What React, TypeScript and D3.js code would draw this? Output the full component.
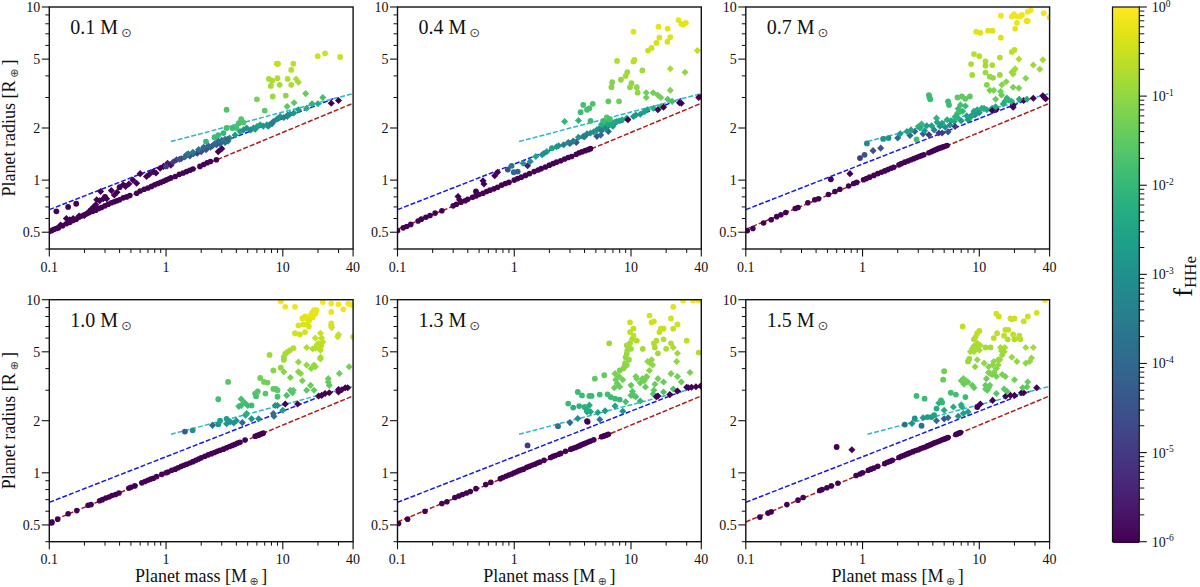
import React from "react";
import * as d3 from "d3";

type P2 = [number, number];
type P3 = [number, number, number];

// dashed reference curves [mass, radius]
const redCurve: P2[] = [[0.1, 0.52], [40, 2.78]];
const blueCurve: P2[] = [[0.1, 0.675], [27, 2.95]];
const cyanCurve: P2[] = [[1.1, 1.67], [40, 3.16]];

const xTicks = [0.1, 1, 10, 40];
const yTicks = [0.5, 1, 2, 5, 10];
const xMinor = [0.2, 0.3, 0.4, 0.5, 0.6, 0.7, 0.8, 0.9, 2, 3, 4, 5, 6, 7, 8, 9, 20, 30];
const yMinor = [0.4, 0.6, 0.7, 0.8, 0.9, 3, 4, 6, 7, 8, 9];
const cbDecades = [0, -1, -2, -3, -4, -5, -6];
const cbMinorFactors = [2, 3, 4, 5, 6, 7, 8, 9];
const panelNames = ["0.1", "0.4", "0.7", "1.0", "1.3", "1.5"];

// Points: rocky [m, r]; others [m, r, log10 fHHe]
const rock1: P2[] = [[.1,.505],[.105,.51],[.11,.52],[.115,.525],[.12,.53],[.13,.545],[.14,.56],[.15,.57],[.16,.585],[.17,.595],[.18,.61],[.19,.62],[.2,.63],[.21,.64],[.22,.65],[.235,.66],[.25,.67],[.265,.685],[.28,.695],[.3,.71],[.32,.725],[.34,.74],[.36,.75],[.38,.76],[.4,.77],[.43,.79],[.46,.80],[.49,.815],[.56,.84],[.6,.865],[.65,.885],[.7,.9],[.75,.92],[.8,.94],[.85,.955],[.9,.97],[.95,.985],[1,1],[1.05,1.015],[1.1,1.03],[1.2,1.05],[1.3,1.08],[1.4,1.1],[1.5,1.12],[1.6,1.14],[1.7,1.16],[1.95,1.2],[2.1,1.23],[2.25,1.26],[2.4,1.28],[2.7,1.31]];
const diam1: P3[] = [[.125,.55,-6],[.14,.6,-6],[.15,.59,-6],[.16,.6,-6],[.18,.62,-6],[.2,.625,-6],[.22,.66,-6],[.23,.68,-6],[.24,.7,-6],[.25,.72,-6],[.255,.77,-6],[.27,.76,-6],[.275,.86,-6],[.29,.78,-6],[.31,.78,-6],[.34,.87,-6],[.36,.82,-6],[.38,.85,-6],[.43,.94,-6],[.45,.92,-6],[.48,.95,-6],[.52,1,-6],[.56,.96,-6],[.6,1.09,-6],[.68,1.05,-6],[.72,1.08,-6],[.78,1.12,-6],[.82,1.1,-6],[.89,1.17,-6],[.95,1.2,-6],[1.03,1.25,-5.6],[1.1,1.22,-5.8],[1.23,1.31,-5],[1.35,1.33,-4.8],[1.5,1.4,-4.7],[1.6,1.38,-4.5],[1.72,1.42,-4.5],[1.85,1.43,-5],[2,1.46,-4.6],[2.2,1.5,-4.5],[2.4,1.55,-4.5],[2.5,1.58,-4.2],[2.7,1.6,-4.3],[2.8,1.46,-6],[3,1.52,-6],[2.9,1.62,-4.2],[3.2,1.65,-4],[3.4,1.68,-3.5],[3.5,1.75,-3],[3.9,1.82,-2.8],[4.3,1.91,-2.6],[4.9,2,-2.8],[5.3,1.95,-3.2],[5.6,2,-2.7],[6,2.04,-2.6],[6.4,2.09,-2.5],[7.3,2.09,-2.7],[7.8,2.1,-3],[8.3,2.18,-3.4],[8.9,2.25,-3.2],[9.5,2.33,-2.8],[10.9,2.33,-3],[11.5,2.4,-3],[12.4,2.44,-3],[13.6,2.55,-2.6],[16,2.6,-2.2],[17.8,2.76,-2.1],[20,2.76,-2.3],[22,3,-1.8],[26,2.78,-6],[30,2.88,-6]];
const band1: P3[] = [[1.15,1.27,-5],[1.3,1.32,-4.5],[1.45,1.36,-4],[1.55,1.42,-3.6],[1.7,1.45,-3.5],[1.9,1.5,-3.8],[2.1,1.55,-4],[2.3,1.58,-4],[2.6,1.62,-4],[2.8,1.68,-4],[3,1.7,-3.8],[3.2,1.72,-3.5],[3.35,1.72,-4],[4.6,1.95,-3],[5.8,1.97,-2.7],[6.8,2.05,-2.8],[7.5,2.05,-3],[8.1,2.12,-3.5],[9.2,2.28,-3],[10.2,2.3,-3.4],[11,2.38,-3.2]];
const circ1: P3[] = [[.115,.66,-6],[.145,.7,-6],[.17,.73,-6],[.3,.8,-6],[.4,.91,-6],[1,1.2,-5],[2.2,1.67,-2],[2.6,1.77,-1.9],[2.8,1.82,-1.9],[3.1,1.87,-2],[3.3,2,-1.8],[3.3,2.55,-1.6],[3.7,2,-1.9],[4,2,-1.8],[4.2,2.13,-1.7],[4.4,2.25,-1.6],[4.6,2.15,-1.7],[6,2.93,-1.2],[7,2.52,-1.5],[7.6,3.84,-.75],[8.1,3.75,-.75],[7.9,3.5,-.8],[8.2,3.04,-.9],[8.9,4.7,-.6],[9.1,4.7,-.6],[9,3.88,-.7],[9.4,3.55,-.8],[10.6,3.08,-1],[11,3.84,-.7],[11.8,4.33,-.65],[11.8,3.55,-.75],[12.3,4.7,-.6],[19.9,5.2,-.45],[23,5.4,-.45],[31,5.15,-.5]];
const diam1b: P3[] = [[13,3.84,-.75],[13.6,3.68,-.8],[10.9,2.66,-1.5],[12.5,2.8,-1.5],[15.7,3.16,-1.4]];

const rock2: P2[] = [[.1,.51],[.112,.53],[.12,.54],[.13,.555],[.15,.58],[.16,.595],[.175,.61],[.19,.625],[.21,.645],[.24,.665],[.3,.71],[.32,.725],[.35,.745],[.38,.76],[.4,.775],[.44,.795],[.47,.81],[.5,.825],[.54,.84],[.58,.86],[.62,.875],[.67,.89],[.72,.91],[.78,.935],[.84,.955],[.9,.97],[1,1],[1.07,1.02],[1.15,1.04],[1.25,1.065],[1.35,1.09],[1.48,1.12],[1.6,1.145],[1.7,1.165],[1.85,1.19],[2,1.22],[2.15,1.245],[2.3,1.27],[2.5,1.295],[2.7,1.325],[2.9,1.35],[3.1,1.37],[3.4,1.41],[3.6,1.44],[3.8,1.455],[4.05,1.48],[4.3,1.5],[4.5,1.52]];
const diam2: P3[] = [[.33,.805,-6],[.34,.77,-6],[.54,.99,-6],[.55,.95,-6],[.68,1.06,-6],[.72,1.11,-6],[1.19,1.25,-3],[1.3,1.21,-5.5],[1.37,1.28,-3],[1.53,1.37,-2.5],[1.73,1.4,-2.8],[1.9,1.46,-2.7],[2.3,1.56,-2.7],[2.65,1.6,-3.5],[3,1.63,-4],[3.4,1.65,-4.5],[3.55,1.77,-3],[3.9,1.79,-3],[4.5,1.87,-3],[5.1,1.95,-2.8],[5.5,2,-2.5],[5.8,2.04,-2.4],[6,2.15,-2.2],[6.4,2.2,-2],[6.5,2.08,-2.6],[7,2.05,-2.8],[7.5,2.18,-2.6],[8.4,2.23,-2.4],[9.2,2.28,-2.6],[10.5,2.33,-2.8],[12,2.4,-2.8],[13.8,2.55,-2.5],[15.6,2.6,-2.2],[18,2.66,-2],[20.6,2.93,-1.6],[22.5,2.85,-1.8],[5.1,1.79,-4.5],[5.5,1.82,-4],[6.4,1.91,-4],[9.4,2.23,-6],[17,2.55,-6],[19,2.64,-6],[26,2.8,-6],[27,2.78,-6],[38,3,-6],[40,3.03,-6],[2.7,2.18,-2.1],[3.55,2.21,-2.1],[16.9,3.1,-1.3],[18,3,-1.3],[13.5,3.2,-1.3],[13.5,3,-1.3],[15.5,3.2,-1.3],[21.7,3.3,-1.1],[21.7,4.4,-.75],[29,4.2,-1],[37,5.6,-.6]];
const band2: P3[] = [[5.3,1.98,-3],[5.6,1.93,-3.5],[5.9,2.02,-2.8],[6.1,1.98,-3.2],[6.3,2.1,-2.4],[6.6,2.2,-2],[6.8,2.1,-2.4],[7.2,2.15,-2.4],[5.6,2.1,-2.2],[5.9,2.18,-2],[4.8,1.9,-3],[4.2,1.85,-3.2],[3.2,1.68,-3.5],[2.4,1.58,-3],[1.8,1.43,-3],[2.9,1.65,-3.4],[4,1.78,-3.5],[7.9,2.2,-2.5],[11,2.38,-2.8],[13,2.48,-2.6]];
const circ2: P3[] = [[.47,.86,-6],[.88,1.15,-4.5],[.95,1.21,-3.7],[.99,1.11,-4],[1.07,1.12,-4.2],[2.1,1.53,-2.5],[3.7,2.47,-1.9],[3.9,2.72,-1.8],[4.2,2.55,-1.8],[4.4,2.6,-1.8],[4.7,2.76,-1.7],[4.5,2.2,-1.9],[5.8,2.2,-1.9],[6.2,2.3,-1.6],[6.6,2.25,-1.8],[6.4,2.85,-1.5],[6.9,3.68,-1.1],[6.8,3.44,-1.1],[7.9,2.85,-1.3],[7.6,4.88,-.7],[8.2,3.8,-1],[9,4,-.85],[9.3,4.2,-.85],[9.8,3.44,-1],[10.1,3.63,-1],[10.5,4.85,-.65],[10.7,4.95,-.65],[10.5,7.2,-.3],[11.2,3.44,-1],[11.4,3.2,-1],[12.5,4.3,-.85],[14,5.6,-.5],[15,5.8,-.45],[16.5,6.2,-.4],[17.2,7.7,-.28],[17.5,6.65,-.35],[20.6,7.5,-.28],[20.5,6.3,-.35],[21.7,6.7,-.33],[25.5,8.4,-.2],[27,8,-.22],[28,7.9,-.22],[29.5,8.1,-.22]];

const rock3: P2[] = [[.103,.51],[.115,.525],[.142,.565],[.165,.59],[.184,.615],[.2,.63],[.22,.65],[.265,.685],[.28,.695],[.34,.74],[.39,.77],[.42,.78],[.51,.825],[.58,.86],[.64,.885],[.76,.925],[.84,.955],[.89,.97],[1.02,1.005],[1.08,1.02],[1.15,1.04],[1.25,1.065],[1.35,1.09],[1.45,1.11],[1.55,1.13],[1.65,1.15],[1.75,1.17],[1.85,1.185],[2.05,1.225],[2.15,1.245],[2.3,1.27],[2.45,1.29],[2.6,1.31],[2.75,1.33],[2.9,1.35],[3.05,1.37],[3.2,1.385],[3.35,1.4],[3.7,1.44],[3.9,1.46],[4.1,1.485],[4.3,1.505],[4.5,1.525],[4.7,1.54],[4.9,1.555],[5.1,1.57],[5.3,1.585]];
const diam3: P3[] = [[.78,1.09,-6],[1.23,1.48,-4.5],[1.43,1.53,-4.5],[2,1.75,-4],[2.1,1.85,-2.7],[2.4,1.91,-2.5],[2.55,1.81,-4],[2.8,1.91,-4],[3,2.04,-2],[3.2,2.11,-2],[3.3,1.85,-4.2],[3.4,1.93,-2.8],[3.55,2.06,-2.6],[3.7,1.83,-5],[3.9,2.06,-2.6],[4.1,1.95,-3.2],[4.3,2.28,-2.1],[4.35,2.16,-2.4],[4.5,1.87,-5],[4.8,2.13,-2.5],[4.8,1.87,-5],[5.1,2.02,-3],[5.3,2.23,-2.2],[5.4,1.9,-4.5],[6.1,2.18,-2.4],[6.2,2.04,-5],[6.5,2.43,-1.9],[6.6,2.58,-1.9],[6.9,2.72,-1.8],[6.5,2.3,-2.2],[7.6,2.68,-1.9],[8,2.23,-3],[8.4,2.31,-2.6],[9,2.5,-2.5],[9.2,2.38,-3],[9.6,2.55,-2.4],[10.5,2.6,-2.2],[11.6,2.55,-2.4],[12.9,2.6,-2.4],[12.9,2.52,-6],[14,2.57,-6],[19.5,2.72,-6],[19.5,2.64,-6],[24,2.88,-6],[29,2.97,-6],[35,3.07,-6],[36,3,-6],[37,2.95,-6],[16.6,2.85,-2.2],[17.8,2.9,-2.2],[17.2,2.98,-2],[22,2.93,-2.4],[25.6,2.93,-2.5],[13.8,2.93,-1.4],[15.5,3.1,-1.4],[15.2,3.25,-1.3],[12.3,3.3,-1.2],[13.3,3.3,-1.2],[15.6,3.55,-1.1],[17,3.7,-1.1],[19.5,3.44,-1.2],[21.8,3.4,-1.2],[25,3.88,-1.1],[29,4.62,-.85],[33,4.37,-.9],[35,4.95,-.8],[20.3,4.4,-.75],[19,4.2,-.85],[21.8,5,-.7],[19.5,4.1,-.85],[19.8,4.3,-.85]];
const band3: P3[] = [[5.7,2.2,-2.3],[6.8,2.48,-1.9],[7.2,2.5,-2],[6.2,2.32,-2.1],[7.8,2.35,-2.5],[8.8,2.4,-2.6],[3.1,2,-2.3],[2.6,1.95,-2.5],[4.6,2.05,-2.8],[5.6,2.08,-3],[7,2.2,-2.8],[10,2.45,-2.7],[11,2.6,-2.3],[13.8,2.65,-2.5],[16,2.75,-2.3],[18.9,2.85,-2.2]];
const circ3: P3[] = [[.535,1.01,-6],[.95,1.34,-5],[1.04,1.4,-4.5],[1.09,1.63,-3.2],[1.5,1.73,-3],[1.67,1.75,-2.9],[2.9,1.72,-1.8],[3.7,3.1,-1.9],[3.75,3,-1.9],[3.8,2.93,-1.9],[5.5,2.72,-1.9],[5.4,2.85,-1.9],[6.5,3,-1.5],[7.1,3.04,-1.5],[8.3,3.04,-1.5],[7.6,2.95,-1.5],[8.5,4.68,-.75],[9,5.35,-.65],[8.7,4.05,-.8],[10,5.2,-.65],[11.3,4.85,-.75],[11.3,4.57,-.8],[11.3,4.18,-.9],[12.3,3.96,-.95],[13.1,3.9,-.95],[12.9,4.62,-.75],[11.6,3.55,-1.1],[15,5.1,-.65],[15,4.05,-.9],[19,5.5,-.6],[20,5.65,-.6],[9.4,7.2,-.3],[10.2,7.1,-.3],[11.9,7.3,-.3],[13,7.3,-.3],[15.3,8.9,-.15],[15.3,6.65,-.35],[19,8.8,-.15],[19.8,9.1,-.12],[21,8.8,-.15],[23.2,9,-.12],[22.4,8.8,-.15],[26,9.4,-.1],[27.6,9.6,-.1],[35.6,9.2,-.1],[20.3,7.5,-.25],[21,8.1,-.2],[25.4,8.3,-.2],[26,8.3,-.2],[40,8.7,-.15]];

const rock4: P2[] = [[.102,.515],[.105,.52],[.118,.54],[.145,.58],[.172,.605],[.215,.65],[.228,.655],[.27,.69],[.285,.7],[.305,.715],[.325,.725],[.345,.74],[.37,.75],[.395,.765],[.48,.815],[.5,.825],[.54,.84],[.62,.875],[.66,.89],[.7,.905],[.74,.92],[.78,.93],[.83,.95],[.92,.98],[1,1],[1.04,1.01],[1.12,1.035],[1.2,1.05],[1.27,1.07],[1.35,1.09],[1.43,1.105],[1.5,1.12],[1.6,1.14],[1.7,1.16],[1.8,1.18],[1.9,1.2],[2,1.22],[2.15,1.245],[2.3,1.27],[2.45,1.29],[2.6,1.31],[2.75,1.33],[2.9,1.35],[3.1,1.37],[3.3,1.395],[3.5,1.42],[3.7,1.44],[3.9,1.46],[4.1,1.485],[4.3,1.5],[4.75,1.545],[5.8,1.625],[6,1.64],[6.2,1.65],[6.4,1.67],[6.6,1.68],[6.8,1.695]];
const diam4: P3[] = [[2.5,1.88,-4],[3.55,1.97,-2.8],[3.8,1.94,-2.9],[3.3,1.92,-2.9],[4,2,-2.8],[4.5,1.95,-4],[4.8,2.15,-2.3],[5.4,2.05,-3],[6.2,2.05,-3],[8.3,2.2,-3.8],[8.4,2.12,-3.8],[8.6,2.45,-3],[9,2.45,-3],[10,2.3,-2.7],[10.5,2.5,-6],[13.4,2.5,-6],[20.3,2.78,-6],[21.5,2.8,-6],[23,2.87,-6],[25,2.9,-6],[30,2.93,-6],[30,3.03,-6],[34.3,3.1,-6],[36,3.1,-6],[32,3.02,-6],[4.2,2.42,-1.9],[4.4,2.45,-1.9],[4.4,2.67,-1.8],[4.7,2.55,-1.8],[5,2.45,-1.9],[10.8,2.8,-1.7],[11.6,3,-1.5],[12.1,2.9,-1.6],[12.3,3,-1.5],[10.2,3.83,-1.1],[11.6,3.55,-1.2],[13.6,3.83,-1.1],[14.2,3.75,-1.1],[13.6,4.37,-.95],[14.7,3.4,-1.2],[16,3,-1.5],[17.3,3.2,-1.4],[18.5,3,-1.5],[24.5,3.5,-1.4],[25,3.2,-1.5],[24.5,3.35,-1.45],[30.5,3.75,-1.3],[37,4.1,-1.2],[16,4.2,-.95],[17.5,4,-1],[19,4.1,-1],[18.5,4.2,-.95],[16,5.3,-.7],[18,5.2,-.7],[19,5.25,-.7],[21,5.1,-.7],[21,4.65,-.8],[21,4.55,-.8],[21.3,5.4,-.65],[22,5.7,-.6],[21.5,6,-.55],[21,6.4,-.5],[26,7.1,-.4],[26.2,6.9,-.4],[29.5,6.1,-.5],[30,6.3,-.5],[19,6,-.5],[20.3,5.6,-.55],[20.8,5.2,-.6],[19.6,5.5,-.6],[4.9,2.2,-2.2]];
const circ4: P3[] = [[.105,.515,-6],[1.45,1.73,-4.3],[1.69,1.76,-3],[2.8,1.91,-3],[2.8,2.66,-1.8],[3.4,3.35,-1.6],[2.9,2,-2.5],[3.3,2.05,-2.7],[5.4,2.45,-1.9],[5.9,2.77,-1.8],[5.8,2.87,-1.7],[6.1,2.95,-1.6],[6.4,3.53,-1.3],[6.9,3.35,-1.3],[7.4,3.32,-1.3],[7.1,2.87,-1.6],[7.7,4.8,-.85],[8.3,3.9,-1.1],[8.3,3.05,-1.5],[9,3,-1.5],[8.7,3.05,-1.5],[9,2.75,-1.7],[9.6,4.05,-1],[10.2,4.66,-.85],[10.5,4.88,-.8],[11,5,-.75],[11.5,5.1,-.75],[12.3,5.25,-.7],[10.2,4.5,-.9],[10.5,9.1,-.15],[12.7,9.1,-.15],[9.6,9.8,-.1],[12.7,6.4,-.4],[13.6,7.1,-.35],[14,6.3,-.45],[15.5,6.5,-.4],[14.7,7.8,-.28],[15.5,8,-.28],[16,7.8,-.28],[16.7,7,-.33],[16.2,7.2,-.33],[17.3,8.1,-.25],[18.5,8.7,-.2],[19,8.3,-.22],[18,7.9,-.25],[15,7.2,-.33],[16.8,7.6,-.3],[17.8,8.4,-.22],[19.5,8.7,-.2],[26,8.5,-.18],[22,9.7,-.08],[26,9.5,-.08],[30,9.4,-.08],[33,8.8,-.12],[36.3,9.5,-.08],[38,9.4,-.08],[40,9.3,-.08],[40,6.1,-.5],[26,7.3,-.35]];

const rock5: P2[] = [[.102,.51],[.122,.54],[.172,.6],[.24,.665],[.265,.68],[.31,.72],[.335,.735],[.36,.75],[.39,.765],[.42,.78],[.47,.81],[.57,.855],[.63,.88],[.76,.925],[.8,.94],[.85,.955],[.9,.97],[.95,.985],[1,1],[1.05,1.015],[1.1,1.03],[1.15,1.04],[1.2,1.05],[1.28,1.075],[1.35,1.09],[1.42,1.105],[1.5,1.12],[1.58,1.14],[1.66,1.155],[1.8,1.18],[2.05,1.225],[2.15,1.245],[2.25,1.26],[2.4,1.28],[2.5,1.295],[2.75,1.33],[3.05,1.37],[3.2,1.385],[3.35,1.4],[3.5,1.42],[3.65,1.435],[3.8,1.455],[3.95,1.47],[4.1,1.485],[4.3,1.505],[4.5,1.525],[4.8,1.55],[5.6,1.615],[5.8,1.63],[6,1.64],[6.2,1.655],[6.4,1.67]];
const diam5: P3[] = [[3,1.95,-4],[3.5,2.06,-3],[5.4,2.03,-3.5],[4.5,2.25,-2.5],[4.2,2.25,-2.5],[5.2,2.23,-2.6],[6,2.28,-2.8],[7.3,2.43,-2.5],[8.5,2.27,-3],[4.1,2.35,-2.4],[4.4,2.46,-2.3],[9,2.57,-1.8],[7.3,3.74,-1.2],[7.9,3.6,-1.25],[7.6,3.28,-1.35],[7.4,3.45,-1.3],[7.2,3.1,-1.4],[8.5,3.45,-1.3],[8,3.14,-1.4],[10,2.8,-1.6],[10.5,2.8,-1.6],[11,2.75,-1.7],[10.3,2.95,-1.6],[12,2.6,-2],[10,3.2,-1.45],[11,3.6,-1.3],[13.3,3.13,-1.4],[12.5,3.5,-1.3],[13,3.4,-1.3],[13.5,3.55,-1.25],[14.4,3.9,-1.1],[13.9,4.4,-1],[15.3,4.2,-1],[14.6,4.3,-1],[15.7,3,-1.5],[16,3.25,-1.4],[15.5,2.85,-1.6],[17,3.5,-1.3],[19,3.35,-1.4],[19,2.93,-1.7],[23,3.05,-1.7],[22,3.74,-1.2],[25,3.6,-1.3],[27,3.35,-1.4],[24.6,4.4,-1],[32,3.8,-1.2],[25,4.9,-.85],[23,5.3,-.75],[16.5,2.75,-6],[17,2.78,-6],[21.5,2.83,-6],[25,2.97,-6],[31,3.1,-6],[33,3.12,-6],[36,3.14,-6],[39.5,3.17,-6],[30,3.12,-6],[11.2,3.5,-1.25],[12,3.3,-1.35],[13.6,3.6,-1.25],[15,4.5,-1]];
const circ5: P3[] = [[1.3,1.44,-5],[2.37,1.86,-3.8],[4.2,1.99,-6],[4.25,1.97,-6],[2.9,2.51,-1.9],[3.2,2.38,-2.2],[3.6,2.43,-2.1],[4,2.4,-2.1],[4.2,2.3,-2.3],[3.5,2.93,-1.9],[3.8,2.8,-1.9],[4.4,2.78,-1.9],[4.6,2.78,-1.9],[5.4,2.83,-1.9],[4.9,3.5,-1.5],[5.9,3.66,-1.4],[6.5,5.6,-.9],[6.3,2.84,-1.8],[6.7,2.74,-1.9],[7.3,2.68,-1.9],[8,2.65,-2],[8,3.9,-1.2],[8.6,4,-1.1],[9.2,4.2,-1],[8.9,4.3,-1],[9.6,4.5,-.95],[9.2,4.88,-.9],[9,4.65,-.95],[9.3,5.1,-.85],[9.5,5.3,-.85],[9.8,5.6,-.8],[10,5.2,-.85],[8.8,4.1,-1.05],[9.8,6.5,-.6],[9.8,7.4,-.45],[10.5,6.8,-.55],[10.5,6.2,-.6],[10.2,5.9,-.7],[9.2,5.45,-.8],[11.2,5.8,-.7],[12.6,5.2,-.8],[14.4,8.1,-.4],[15,7.4,-.45],[15.7,7.5,-.45],[15.7,5.6,-.7],[16.5,5.8,-.7],[16,5.3,-.75],[17,4.9,-.85],[17.5,6.5,-.55],[18,6.8,-.5],[19,6.8,-.5],[19,5.9,-.65],[20,5.2,-.75],[22,5.6,-.7],[22,7.8,-.4],[23,6.8,-.5],[25,7.2,-.45],[23,9.1,-.3],[30,5.8,-.55],[38,4.95,-.7],[28,9.9,-.1],[34,9.9,-.1],[38,9.9,-.1]];

const rock6: P2[] = [[.132,.555],[.155,.585],[.165,.595],[.225,.655],[.28,.695],[.31,.72],[.43,.79],[.45,.8],[.495,.82],[.54,.84],[.615,.87],[.88,.965],[.95,.985],[1,1],[1.12,1.035],[1.18,1.05],[1.25,1.065],[1.35,1.09],[1.55,1.13],[1.63,1.15],[1.72,1.165],[1.8,1.18],[2.05,1.225],[2.15,1.245],[2.25,1.26],[2.35,1.275],[2.45,1.29],[2.55,1.305],[2.7,1.325],[2.85,1.345],[3,1.36],[3.15,1.38],[3.3,1.395],[3.45,1.41],[3.6,1.43],[3.75,1.445],[3.9,1.46],[4.05,1.48],[4.2,1.495],[4.4,1.51],[4.6,1.53],[4.8,1.55],[5,1.565],[5.2,1.58],[5.4,1.6],[6.3,1.665],[6.5,1.68],[6.7,1.695],[6.9,1.71]];
const diam6: P3[] = [[.81,1.36,-6],[2.65,1.93,-3],[3.3,2.08,-2.8],[4.3,2,-3.8],[5,2.05,-4.5],[5.4,2.08,-4],[6.6,2.12,-3],[6,2.4,-2.3],[7,2.47,-2.2],[7.1,2.4,-2.3],[7.3,2.2,-2.6],[8,2.25,-2.7],[10.2,2.5,-6],[13,2.62,-6],[16.8,2.77,-6],[18.5,2.8,-6],[20,2.8,-6],[23,2.9,-6],[24,2.9,-6],[31,3.1,-6],[5,2.3,-2.3],[4.5,2.53,-2.2],[7.3,3.5,-1.3],[7,3.4,-1.35],[7.4,3.25,-1.4],[8,3.35,-1.35],[8.7,3.2,-1.4],[9,3.1,-1.45],[9.2,4.1,-1.05],[9.6,4.5,-.95],[8.7,5.2,-.8],[9,5,-.8],[9.6,5.6,-.75],[10.2,5.45,-.75],[8.4,5,-.8],[11,4.3,-1],[12,3.8,-1.15],[12.9,3.7,-1.2],[13.3,3.8,-1.15],[11.3,3.2,-1.4],[11.7,3,-1.5],[12,3.1,-1.45],[11.3,3.05,-1.45],[14,2.87,-1.6],[14,3.6,-1.25],[15.7,3.7,-1.2],[16.7,3.6,-1.25],[16.3,3.05,-1.5],[17.3,2.95,-1.55],[20,3.45,-1.3],[13.3,4.4,-1],[15,4.5,-.95],[14,4,-1.1],[15.7,4.8,-.9],[16.3,5,-.85],[15.2,5.3,-.8],[16.5,5.3,-.8],[14.5,4.2,-1],[19,4.65,-.95],[21,4.4,-1],[23.5,3.1,-1.5],[25.6,3.13,-1.5],[26,3.35,-1.4],[25,4.3,-1],[27,4.4,-1],[28,4.6,-.95],[29,5.3,-.8],[25,5.3,-.8],[12,4.1,-1.05],[12.4,3.75,-1.15],[10,5.1,-.8],[9.3,5.3,-.8],[9,5.4,-.8],[13,4.2,-1.05],[15.5,5.05,-.85],[14.5,4.5,-.95],[7.7,3.4,-1.3],[11.5,3.5,-1.3],[12.3,3.2,-1.4]];
const circ6: P3[] = [[.6,1.41,-6],[2.3,1.9,-3.8],[2.8,2.06,-3],[3.2,1.87,-3.8],[3.6,2.1,-2.7],[3.9,2.1,-2.7],[4.1,2.15,-2.6],[4.3,2.35,-2.3],[2.9,2.78,-1.9],[3.4,2.68,-1.9],[4.7,2.62,-1.9],[5,3.86,-1.3],[4.9,3.45,-1.4],[4.8,2.55,-2],[5.7,2.9,-1.8],[6.3,2.83,-1.8],[7.6,2.74,-1.9],[9.6,2.4,-6],[7.2,7,-.55],[8,4.4,-.95],[8.2,4.55,-.95],[9,5.9,-.7],[9.3,6.1,-.65],[9.6,6.4,-.6],[10,6.6,-.6],[11.3,5.3,-.8],[12.5,5.3,-.8],[14,8.3,-.4],[14.7,8,-.45],[14.2,6.4,-.6],[13.3,6,-.65],[16.7,6.7,-.55],[17.7,6.7,-.55],[17.5,5.9,-.7],[16.3,6.2,-.6],[18.5,7.8,-.45],[20,7.8,-.45],[19,7.7,-.45],[19.5,6.3,-.6],[20,5.9,-.7],[21.8,6,-.65],[22.5,5.9,-.65],[22,6.2,-.6],[24,7.5,-.5],[26,8,-.45],[31,8.4,-.4],[36.6,9.95,-.1]];

const panelRocks = [rock1, rock2, rock3, rock4, rock5, rock6];
const panelDiamonds = [[...diam1, ...band1, ...diam1b], [...diam2, ...band2], [...diam3, ...band3], diam4, diam5, diam6];
const panelCircles = [circ1, circ2, circ3, circ4, circ5, circ6];

const panelLefts = [49.3, 397.5, 745.8];
const panelTops = [7, 299.7];
const W = 303.8;
const H = 242;

const color = d3.scaleSequential(d3.interpolateViridis).domain([-6, 0]);
const x = d3.scaleLog().domain([0.1, 40]).range([0, W]);
const y = d3.scaleLog().domain([0.4, 10]).range([H, 0]);
const cbY = d3.scaleLinear().domain([-6, 0]).range([541.7, 7]);
const curve = d3.line<P2>().x(d => x(d[0])).y(d => y(d[1]));
const dk = "#111";
const serif = "'Liberation Serif', serif";
const symFont = "'DejaVu Sans', sans-serif";
const diamond = d3.symbol().type(d3.symbolSquare).size(25)() as string;
const cbSteps = d3.range(-6, 0, 0.02);

function fmt(v: number) { return String(v); }

function Panel({ idx }: { idx: number }) {
  const col = idx % 3, row = Math.floor(idx / 3);
  const left = panelLefts[col], top = panelTops[row];
  return (
    <g transform={`translate(${left},${top})`}>
      <clipPath id={`clip${idx}`}><rect width={W} height={H} /></clipPath>
      <g clipPath={`url(#clip${idx})`}>
        <path d={curve(redCurve)!} fill="none" stroke="#b01c1c" strokeWidth={1.5} strokeDasharray="5,2" />
        <path d={curve(blueCurve)!} fill="none" stroke="#1a1ae6" strokeWidth={1.5} strokeDasharray="5,2" />
        <path d={curve(cyanCurve)!} fill="none" stroke="#2fb6c8" strokeWidth={1.5} strokeDasharray="5,2" />
        {panelRocks[idx].map((d, i) => <circle key={"r" + i} cx={x(d[0])} cy={y(d[1])} r={2.8} fill={color(-6)} />)}
        {panelDiamonds[idx].map((d, i) => <path key={"d" + i} d={diamond} transform={`translate(${x(d[0])},${y(d[1])}) rotate(45)`} fill={color(d[2])} />)}
        {panelCircles[idx].map((d, i) => <circle key={"c" + i} cx={x(d[0])} cy={y(d[1])} r={2.9} fill={color(d[2])} />)}
      </g>
      <rect width={W} height={H} fill="none" stroke={dk} strokeWidth={1.4} />
      {xTicks.map(t => (
        <g key={"xt" + t} transform={`translate(${x(t)},${H})`}>
          <line y2={7.5} stroke={dk} strokeWidth={1.1} />
          <text y={22.5} textAnchor="middle" fontSize={14} fill="#111">{fmt(t)}</text>
        </g>
      ))}
      {xMinor.map(t => <line key={"xm" + t} x1={x(t)} x2={x(t)} y1={H} y2={H + 4} stroke={dk} strokeWidth={1} />)}
      {yTicks.map(t => (
        <g key={"yt" + t} transform={`translate(0,${y(t)})`}>
          <line x2={-7.5} stroke={dk} strokeWidth={1.1} />
          <text x={-9} y={4.8} textAnchor="end" fontSize={14} fill="#111">{fmt(t)}</text>
        </g>
      ))}
      {yMinor.map(t => <line key={"ym" + t} y1={y(t)} y2={y(t)} x1={0} x2={-4} stroke={dk} strokeWidth={1} />)}
      <text x={21} y={27} fontSize={20} fill="#111">
        {panelNames[idx]} M<tspan fontFamily={symFont} fontSize={13} dx={3} dy={3} fill="#444">⊙</tspan>
      </text>
      {col === 0 && (
        <text transform={`translate(-34.5,${H / 2}) rotate(-90)`} textAnchor="middle" fontSize={18} fill="#111">
          Planet radius [R<tspan fontFamily={symFont} fontSize={11} dx={3} dy={3} fill="#444">⊕</tspan><tspan dx={3} dy={-3}>]</tspan>
        </text>
      )}
      {row === 1 && (
        <text x={W / 2} y={H + 40.5} textAnchor="middle" fontSize={18} fill="#111">
          Planet mass [M<tspan fontFamily={symFont} fontSize={11} dx={2.5} dy={3} fill="#444">⊕</tspan><tspan dx={2.5} dy={-3}>]</tspan>
        </text>
      )}
    </g>
  );
}

function Colorbar() {
  const l = 1112.5, w = 26.8;
  return (
    <g>
      <g shapeRendering="crispEdges">
        {cbSteps.map(v => <rect key={v} x={l} y={cbY(v + 0.02)} width={w} height={cbY(v) - cbY(v + 0.02) + 1} fill={color(v + 0.01)} />)}
      </g>
      <rect x={l} y={7} width={w} height={534.7} fill="none" stroke={dk} strokeWidth={1.2} />
      {cbDecades.map(k => (
        <g key={k} transform={`translate(${l + w},${cbY(k)})`}>
          <line x2={7.5} stroke={dk} strokeWidth={1.1} />
          <text x={12.5} y={5} fontSize={14} fill="#111">10<tspan fontSize={9.5} dy={-5.5}>{k === 0 ? "0" : `-${-k}`}</tspan></text>
        </g>
      ))}
      {cbDecades.slice(1).map(k => cbMinorFactors.map(f => {
        const v = k + Math.log10(f);
        return <line key={v} x1={l + w} x2={l + w + 5} y1={cbY(v)} y2={cbY(v)} stroke={dk} strokeWidth={1} />;
      }))}
      <text transform="translate(1192,297) rotate(-90)" fontSize={27} fill="#111">f<tspan fontSize={17} dy={3.5}>HHe</tspan></text>
    </g>
  );
}

export default function App() {
  return (
    <svg width={1200} height={587} style={{ position: "absolute", left: 0, top: 0, background: "#fff" }} fontFamily={serif}>
      {panelNames.map((_, i) => <Panel key={i} idx={i} />)}
      <Colorbar />
    </svg>
  );
}
